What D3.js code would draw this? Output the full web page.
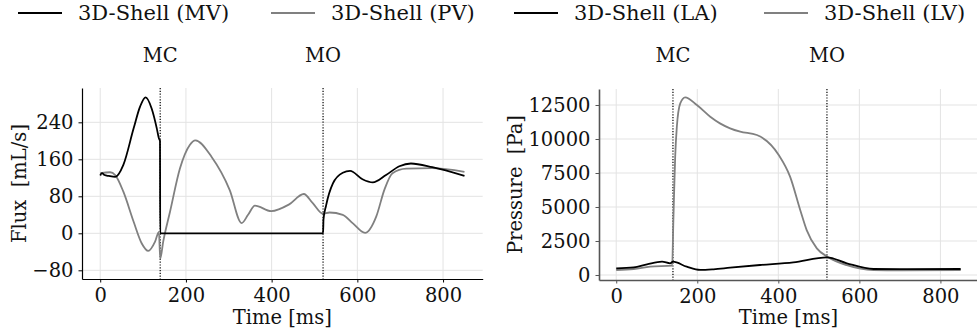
<!DOCTYPE html>
<html>
<head>
<meta charset="utf-8">
<script src="https://cdn.jsdelivr.net/npm/d3@7"></script>
<style>
  body { margin: 0; background: #fff; }
  svg text { font-family: "DejaVu Serif", serif; fill: #111; white-space: pre; }
</style>
</head>
<body>
<div id="chart"></div>
<script>

// Left panel: valve fluxes
const mvTime = [0, 4, 10, 20, 35, 54, 78, 93, 106, 120, 132, 137, 139.5, 140, 520, 521, 527, 543, 566, 583, 612, 636, 667, 698, 725, 775, 850];
const mvFlux = [125, 130, 126, 124, 122, 148, 227, 274, 294, 270, 227, 205, 200, 0, 0, 30, 60, 108, 131, 135, 117, 110, 126, 145, 151, 143, 124];

const pvTime = [0, 23, 35, 54, 78, 97, 112, 128, 137, 140, 147, 163, 186, 209, 222, 260, 302, 330, 345, 361, 399, 440, 475, 496, 520, 535, 566, 589, 618, 644, 663, 682, 714, 775, 850];
const pvFlux = [130, 132, 126, 90, 25, -22, -38, -18, 3, -55, -18, 47, 140, 191, 201, 165, 94, 22, 40, 60, 48, 62, 85, 65, 42, 45, 40, 22, 1, 36, 94, 130, 140, 141, 133];

// Right panel: chamber pressures
const laTime = [0, 43, 76, 113, 133, 140, 174, 207, 240, 281, 355, 437, 520, 569, 635, 700, 850];
const laPressure = [490, 560, 780, 980, 860, 980, 610, 370, 420, 540, 735, 930, 1300, 860, 440, 430, 440];

const lvTime = [0, 43, 84, 138, 141, 143, 145.5, 149.6, 158, 170, 199, 232, 256, 281, 306, 347, 401, 429, 454, 470, 495, 521, 569, 635, 700, 850];
const lvPressure = [368, 440, 613, 690, 4000, 6250, 8700, 10900, 12620, 13066, 12500, 11640, 11150, 10785, 10540, 10294, 8823, 7230, 4780, 3300, 1960, 1350, 720, 360, 340, 360];

// Events and ticks
const eventNames = ["MC", "MO"];
const eventTimes = [140, 520];
const timeTicks = [0, 200, 400, 600, 800];
const fluxTicks = [-80, 0, 80, 160, 240];
const pressureTicks = [0, 2500, 5000, 7500, 10000, 12500];

const width = 977, height = 334;
const fontSize = 19.5;
const legendFontSize = 21;

const svg = d3.select("#chart")
  .append("svg")
  .attr("width", width)
  .attr("height", height);

function zip(ts, vs) {
  return ts.map((t, i) => ({ t: t, v: vs[i] }));
}

function drawPanel(opts) {

  let x = d3.scaleLinear().domain([-42.5, 892.5]).range([opts.left, opts.right]);
  let y = d3.scaleLinear().domain(opts.yDomain).range([opts.bottom, opts.top]);

  let g = svg.append("g");

  // grid
  g.append("g").selectAll("line.vg")
    .data(timeTicks)
    .join("line")
    .attr("x1", d => x(d)).attr("x2", d => x(d))
    .attr("y1", opts.top).attr("y2", opts.bottom)
    .attr("stroke", "#e3e3e3").attr("stroke-width", 1);

  g.append("g").selectAll("line.hg")
    .data(opts.yTicks)
    .join("line")
    .attr("x1", opts.left).attr("x2", opts.right)
    .attr("y1", d => y(d)).attr("y2", d => y(d))
    .attr("stroke", "#e3e3e3").attr("stroke-width", 1);

  // event markers
  g.selectAll("line.event")
    .data(eventTimes)
    .join("line")
    .attr("x1", d => x(d)).attr("x2", d => x(d))
    .attr("y1", opts.top).attr("y2", opts.bottom)
    .attr("stroke", "#000")
    .attr("stroke-width", 1.2)
    .attr("stroke-dasharray", "1.2,1.6");

  g.selectAll("text.event")
    .data(eventTimes)
    .join("text")
    .attr("x", d => x(d))
    .attr("y", 62)
    .attr("text-anchor", "middle")
    .style("font-size", fontSize + "px")
    .text((d, i) => eventNames[i]);

  // curves
  let line = d3.line()
    .x(d => x(d.t))
    .y(d => y(d.v))
    .curve(d3.curveMonotoneX);

  opts.series.forEach(s => {
    g.append("path")
      .datum(zip(s.time, s.values))
      .attr("fill", "none")
      .attr("stroke", s.color)
      .attr("stroke-width", 1.8)
      .attr("stroke-linejoin", "round")
      .attr("d", line);
  });

  // axes
  let yAxis = d3.axisLeft(y)
    .tickValues(opts.yTicks)
    .tickSizeInner(3.5).tickSizeOuter(0).tickPadding(5)
    .tickFormat(opts.format);

  let xAxis = d3.axisBottom(x)
    .tickValues(timeTicks)
    .tickSizeInner(3.5).tickSizeOuter(0).tickPadding(5)
    .tickFormat(d3.format("d"));

  let ya = g.append("g")
    .attr("transform", "translate(" + opts.left + ",0)")
    .call(yAxis);

  let xa = g.append("g")
    .attr("transform", "translate(0," + opts.bottom + ")")
    .call(xAxis);

  [ya, xa].forEach(a => {
    a.select(".domain").attr("stroke", opts.spine).attr("stroke-width", opts.spineWidth);
    a.selectAll(".tick line").attr("stroke", opts.spine);
    a.selectAll(".tick text")
      .style("font-size", fontSize + "px")
      .style("font-family", "DejaVu Serif")
      .attr("fill", "#111");
  });

  xa.selectAll(".tick text").attr("dy", "0.75em");

  // axis labels
  g.append("text")
    .attr("x", (opts.left + opts.right) / 2)
    .attr("y", 324)
    .attr("text-anchor", "middle")
    .style("font-size", fontSize + "px")
    .text("Time [ms]");

  g.append("text")
    .attr("transform", "translate(" + opts.labelX + "," + ((opts.top + opts.bottom) / 2) + ") rotate(-90)")
    .attr("text-anchor", "middle")
    .style("font-size", fontSize + "px")
    .text(opts.yLabel);

  // legend
  opts.legend.forEach(l => {
    svg.append("line")
      .attr("x1", l.x).attr("x2", l.x + 44)
      .attr("y1", 13).attr("y2", 13)
      .attr("stroke", l.color).attr("stroke-width", 1.8);
    svg.append("text")
      .attr("x", l.x + 60)
      .attr("y", 20)
      .style("font-size", legendFontSize + "px")
      .text(l.name);
  });
}

drawPanel({
  left: 82, right: 482.7, top: 88, bottom: 279,
  yDomain: [-98.8, 314.2],
  yTicks: fluxTicks,
  format: d3.format("d"),
  yLabel: "Flux  [mL/s]",
  labelX: 26,
  spine: "#000", spineWidth: 1.2,
  series: [
    { time: pvTime, values: pvFlux, color: "#808080" },
    { time: mvTime, values: mvFlux, color: "#000" }
  ],
  legend: [
    { x: 18, name: "3D-Shell (MV)", color: "#000" },
    { x: 271, name: "3D-Shell (PV)", color: "#808080" }
  ]
});

drawPanel({
  left: 599, right: 977.9, top: 89, bottom: 280,
  yDomain: [-368, 13676],
  yTicks: pressureTicks,
  format: d3.format("d"),
  yLabel: "Pressure  [Pa]",
  labelX: 522,
  spine: "#555", spineWidth: 1.6,
  series: [
    { time: lvTime, values: lvPressure, color: "#808080" },
    { time: laTime, values: laPressure, color: "#000" }
  ],
  legend: [
    { x: 514, name: "3D-Shell (LA)", color: "#000" },
    { x: 764, name: "3D-Shell (LV)", color: "#808080" }
  ]
});

</script>
</body>
</html>
